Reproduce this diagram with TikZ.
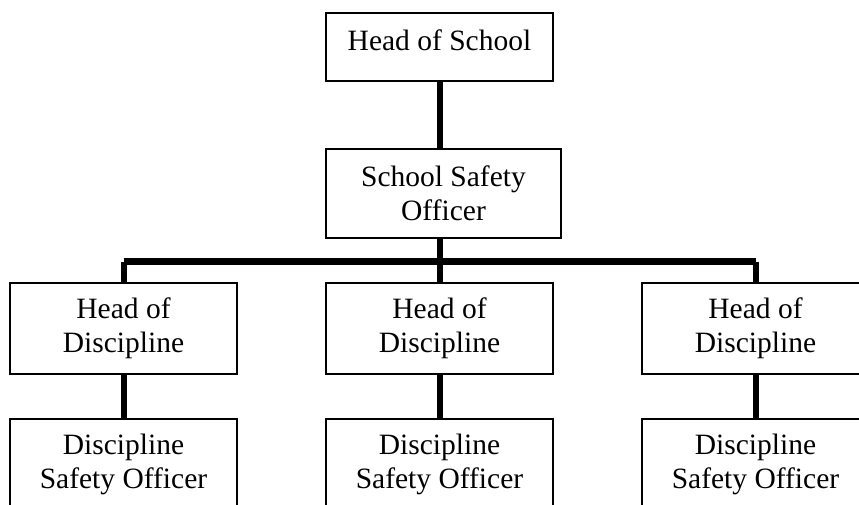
\documentclass[tikz,border=0pt]{standalone}
\usepackage{fontspec}
\setmainfont{Liberation Serif}

\tikzset{
	box/.style = {draw=black, line width=1.5pt, rectangle, align=center,
		minimum width=227pt, minimum height=91pt, inner sep=0pt,
		font=\fontsize{29.5}{34.5}\selectfont},
	link/.style = {line width=6pt},
	bus/.style = {line width=7.5pt}
}

\begin{document}
\begin{tikzpicture}[x=1pt, y=-1pt]
	
	\useasboundingbox (0,0) rectangle (859,505);
	\clip (0,0) rectangle (859,505);
	
	\node[box, minimum height=68pt, text depth=13pt] (head) at (439.5,47) {Head of School};
	\node[box, minimum width=235pt, minimum height=89pt] (safety) at (443.5,193.5) {School Safety\\Officer};
	
	\node[box] (hod1) at (123.5,328.5) {Head of\\Discipline};
	\node[box] (hod2) at (439.5,328.5) {Head of\\Discipline};
	\node[box] (hod3) at (755.5,328.5) {Head of\\Discipline};
	
	\node[box] (dso1) at (123.5,464.5) {Discipline\\Safety Officer};
	\node[box] (dso2) at (439.5,464.5) {Discipline\\Safety Officer};
	\node[box] (dso3) at (755.5,464.5) {Discipline\\Safety Officer};
	
	\coordinate (bus) at (439.5,261.5);
	
	\draw[link] (head.south) -- (head.south |- safety.north);
	\draw[link] (head.south |- safety.south) -- (bus);
	\draw[bus] (hod1.north |- bus) -- (hod3.north |- bus);
	\draw[link] (hod1.north |- bus) -- (hod1.north);
	\draw[link] (bus) -- (hod2.north);
	\draw[link] (hod3.north |- bus) -- (hod3.north);
	
	\draw[link] (hod1.south) -- (dso1.north);
	\draw[link] (hod2.south) -- (dso2.north);
	\draw[link] (hod3.south) -- (dso3.north);
	
\end{tikzpicture}
\end{document}
